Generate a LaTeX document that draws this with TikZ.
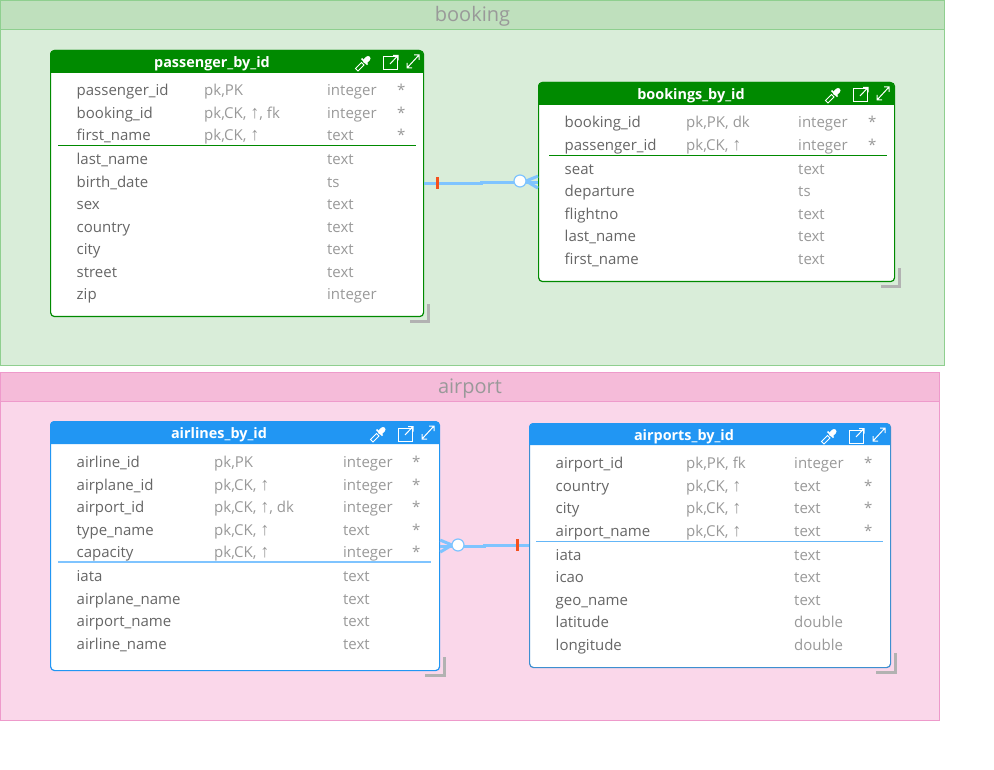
\documentclass[tikz,border=0pt]{standalone}
\usepackage{fontspec}
\setmainfont{Open Sans}
\newfontfamily\symfont{Liberation Sans}
\usetikzlibrary{positioning,calc}
\definecolor{bookhead}{RGB}{191,224,189}
\definecolor{bookbody}{RGB}{217,237,217}
\definecolor{bookedge}{RGB}{143,207,143}
\definecolor{airhead}{RGB}{245,187,217}
\definecolor{airbody}{RGB}{250,215,234}
\definecolor{airedge}{RGB}{238,154,203}
\definecolor{tgreen}{RGB}{0,138,0}
\definecolor{tblue}{RGB}{33,150,243}
\definecolor{relblue}{RGB}{127,196,255}
\definecolor{tick}{RGB}{244,81,30}
\definecolor{txtdark}{RGB}{102,102,102}
\definecolor{txtsoft}{RGB}{153,153,153}
\newcommand{\up}{{\symfont\fontsize{18}{18}\selectfont ↑}}
\tikzset{
  grpbody/.style={draw=#1,anchor=north west,inner sep=0pt,line width=1pt},
  grptitle/.style={draw=#1,anchor=north west,inner sep=0pt,line width=1pt,text=txtsoft,text height=17pt,font=\fontsize{20}{24}\selectfont},
  tbl/.style={draw=#1,fill=white,rounded corners=4pt,anchor=north west,inner sep=0pt,line width=1.2pt},
  ttitle/.style={text=white,inner sep=0pt,font=\fontsize{14.4}{18}\selectfont\bfseries},
  colname/.style={anchor=base west,inner sep=0pt,text=txtdark,font=\fontsize{15}{18}\selectfont},
  colsoft/.style={anchor=base west,inner sep=0pt,text=txtsoft,font=\fontsize{15}{18}\selectfont},
  sepline/.style={line width=1.3pt},
  grip/.style={draw=black!30,line width=3pt},
  rel/.style={draw=relblue,line width=3pt},
  relend/.style={circle,draw=relblue,fill=white,line width=1.2pt,minimum size=12pt,inner sep=0pt},
  relbar/.style={fill=tick,minimum width=3pt,minimum height=12pt,inner sep=0pt},
  tblicons/.pic={
    \draw[white,line width=1pt] (-7,-5) rectangle (7,8);
    \draw[white,line width=1pt] (0,2) -- (8,-6.5) (3,-6.5) -- (8,-6.5) -- (8,-1.5);
    \draw[white,line width=1pt] (17,6) -- (29,-7) (17,1) -- (17,6) -- (22,6) (24,-7) -- (29,-7) -- (29,-2);
    \draw[white,line width=.9pt] (-34.5,6.5) -- (-28.5,.5) -- (-26,3) -- (-32,9) -- cycle;
    \draw[white,line width=1.6pt] (-28.5,-3.5) -- (-22.5,2.5);
    \draw[white,line width=5pt,line cap=round] (-24.5,-1) -- (-22,-3.5);
  }
}
\begin{document}
\begin{tikzpicture}[x=1pt,y=-1pt]
\useasboundingbox (0,0) rectangle (994,770);
\fill[white] (0,0) rectangle (994,770);
\node[grpbody=bookedge,fill=bookbody,minimum width=944pt,minimum height=365pt] (booking) at (0,0) {};
\node[grptitle=bookedge,fill=bookhead,minimum width=944pt,minimum height=29pt] (bookingt) at (0,0) {booking};
\node[grpbody=airedge,fill=airbody,minimum width=939pt,minimum height=348pt] (airport) at (0,372) {};
\node[grptitle=airedge,fill=airhead,minimum width=939pt,minimum height=29pt] (airportt) at (0,372) {airport};

\node[tbl=tgreen,minimum width=373pt,minimum height=266pt] (pass) at (50,50) {};
\fill[tgreen] (50,73) [rounded corners=4pt] -- (50,50) -- (423,50) [sharp corners] -- (423,73) -- cycle;
\node[ttitle] (passt) at (212,64) {passenger\_by\_id};
\pic at (390,62) {tblicons};
\foreach \y/\a/\b/\c in {90/passenger\_id/{pk,PK}/integer,113/booking\_id/{pk,CK, \up, fk}/integer,135/first\_name/{pk,CK, \up}/text}{
  \node[colname] (pa\y) at (76.5,\y+6) {\a};
  \node[colsoft] (pb\y) at (204,\y+6) {\b};
  \node[colsoft] (pc\y) at (327,\y+6) {\c};
  \node[colsoft] (pd\y) at (397,\y+6) {*};
}
\foreach \y/\a/\c in {159/last\_name/text,182/birth\_date/ts,204/sex/text,227/country/text,249/city/text,272/street/text,294/zip/integer}{
  \node[colname] (pa\y) at (76.5,\y+6) {\a};
  \node[colsoft] (pc\y) at (327,\y+6) {\c};
}
\draw[sepline,tgreen] (58,145.5) -- (416,145.5);
\draw[grip] ([shift={(4.5,-13)}]pass.south east) -- ++(0,17) -- ++(-19,0);

\node[tbl=tgreen,minimum width=356pt,minimum height=199pt] (book) at (538,82) {};
\fill[tgreen] (538,105) [rounded corners=4pt] -- (538,82) -- (894,82) [sharp corners] -- (894,105) -- cycle;
\node[ttitle] (bookt) at (691,96) {bookings\_by\_id};
\pic at (860,94) {tblicons};
\foreach \y/\a/\b/\c in {122/booking\_id/{pk,PK, dk}/integer,145/passenger\_id/{pk,CK, \up}/integer}{
  \node[colname] (ba\y) at (564.5,\y+6) {\a};
  \node[colsoft] (bb\y) at (686,\y+6) {\b};
  \node[colsoft] (bc\y) at (798,\y+6) {\c};
  \node[colsoft] (bd\y) at (868,\y+6) {*};
}
\foreach \y/\a/\c in {169/seat/text,191/departure/ts,214/flightno/text,236/last\_name/text,259/first\_name/text}{
  \node[colname] (ba\y) at (564.5,\y+6) {\a};
  \node[colsoft] (bc\y) at (798,\y+6) {\c};
}
\draw[sepline,tgreen] (549,155.5) -- (887,155.5);
\draw[grip] ([shift={(4.5,-14)}]book.south east) -- ++(0,18) -- ++(-19,0);

\node[tbl=tblue,minimum width=389pt,minimum height=249pt] (line) at (50,421) {};
\fill[tblue] (50,444) [rounded corners=4pt] -- (50,421) -- (439,421) [sharp corners] -- (439,444) -- cycle;
\node[ttitle] (linet) at (219,435) {airlines\_by\_id};
\pic at (405,433) {tblicons};
\foreach \y/\a/\b/\c in {462/airline\_id/{pk,PK}/integer,485/airplane\_id/{pk,CK, \up}/integer,507/airport\_id/{pk,CK, \up, dk}/integer,530/type\_name/{pk,CK, \up}/text,552/capacity/{pk,CK, \up}/integer}{
  \node[colname] (la\y) at (76.5,\y+5) {\a};
  \node[colsoft] (lb\y) at (214,\y+5) {\b};
  \node[colsoft] (lc\y) at (343,\y+5) {\c};
  \node[colsoft] (ld\y) at (412,\y+5) {*};
}
\foreach \y/\a/\c in {576/iata/text,599/airplane\_name/text,621/airport\_name/text,644/airline\_name/text}{
  \node[colname] (la\y) at (76.5,\y+5) {\a};
  \node[colsoft] (lc\y) at (343,\y+5) {\c};
}
\draw[sepline,relblue] (58,562) -- (431,562);
\draw[grip] ([shift={(4,-14)}]line.south east) -- ++(0,18) -- ++(-19,0);

\node[tbl=tblue!70!gray,minimum width=361pt,minimum height=244pt] (port) at (529,423) {};
\fill[tblue] (529,445) [rounded corners=4pt] -- (529,423) -- (890,423) [sharp corners] -- (890,445) -- cycle;
\node[ttitle] (portt) at (684,437) {airports\_by\_id};
\pic at (856,435) {tblicons};
\foreach \y/\a/\b/\c in {463/airport\_id/{pk,PK, fk}/integer,486/country/{pk,CK, \up}/text,508/city/{pk,CK, \up}/text,531/airport\_name/{pk,CK, \up}/text}{
  \node[colname] (ra\y) at (555.5,\y+5) {\a};
  \node[colsoft] (rb\y) at (686,\y+5) {\b};
  \node[colsoft] (rc\y) at (794,\y+5) {\c};
  \node[colsoft] (rd\y) at (864,\y+5) {*};
}
\foreach \y/\a/\c in {555/iata/text,577/icao/text,600/geo\_name/text,622/latitude/double,645/longitude/double}{
  \node[colname] (ra\y) at (555.5,\y+5) {\a};
  \node[colsoft] (rc\y) at (794,\y+5) {\c};
}
\draw[sepline,tblue!70] (536,541.5) -- (883,541.5);
\draw[grip] ([shift={(4,-15)}]port.south east) -- ++(0,19) -- ++(-19,0);

\draw[rel] (pass.east) -| ($(pass.east)!.5!(book.west)$) |- (book.west);
\node[relbar] (bar1) at (437,183) {};
\coordinate (fork1) at (526,181);
\draw[rel] (fork1) -- ([yshift=6pt]book.west) (fork1) -- ([yshift=-6pt]book.west);
\node[relend] (end1) at (520,181) {};

\draw[rel] (port.west) -| ($(line.east)!.5!(port.west)$) |- (line.east);
\node[relbar] (bar2) at (517,545) {};
\coordinate (fork2) at (452,545);
\draw[rel] (fork2) -- ([yshift=6pt]line.east) (fork2) -- ([yshift=-6pt]line.east);
\node[relend] (end2) at (458,545) {};
\end{tikzpicture}
\end{document}
